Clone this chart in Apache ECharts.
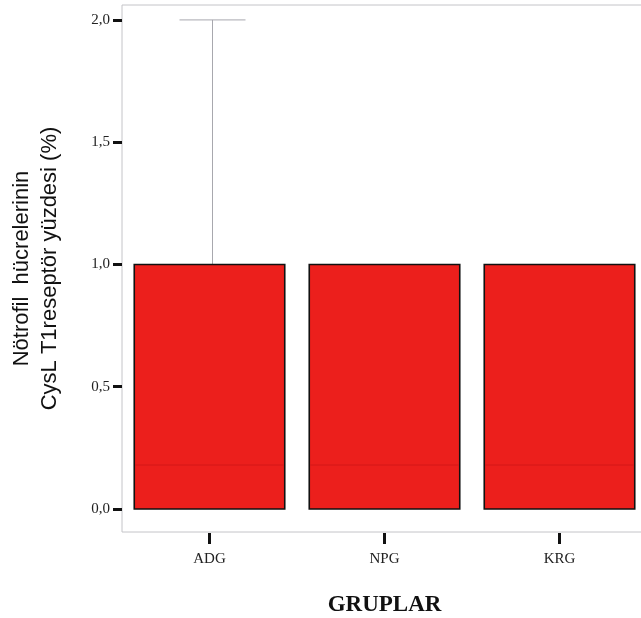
<!DOCTYPE html>
<html><head><meta charset="utf-8">
<script src="https://cdn.jsdelivr.net/npm/echarts@6/dist/echarts.min.js"></script>
<style>html,body{margin:0;padding:0;background:#fff}#c{width:641px;height:618px}</style>
</head><body><div id="c"></div>
<script>
var categories = ['ADG', 'NPG', 'KRG'];
var boxLow = [0, 0, 0];
var boxHigh = [1, 1, 1];
var medianVals = [0.18, 0.18, 0.18];
var whiskerMax = [2, 1, 1];
var yTicks = [0, 0.5, 1, 1.5, 2];

var data = categories.map(function (c, i) {
  return [i, boxLow[i], boxHigh[i], medianVals[i], whiskerMax[i]];
});

var chart = echarts.init(document.getElementById('c'));
chart.setOption({
  backgroundColor: '#fff',
  animation: false,
  grid: { left: 122, top: 5, bottom: 86, width: 525, outerBoundsMode: 'none', containLabel: false,
    show: true, borderColor: '#c4c4c8', borderWidth: 1, backgroundColor: '#fff' },
  xAxis: {
    type: 'category', data: categories, offset: 1,
    axisLine: { show: false, onZero: false },
    axisTick: { show: true, alignWithLabel: true, length: 11, lineStyle: { color: '#111', width: 3 } },
    axisLabel: { margin: 19, fontFamily: 'Liberation Serif', fontSize: 15, color: '#222' },
    name: 'GRUPLAR', nameLocation: 'middle', nameGap: 61,
    nameTextStyle: { fontFamily: 'Liberation Serif', fontWeight: 'bold', fontSize: 23, color: '#111' }
  },
  yAxis: {
    type: 'value', min: -0.094, max: 2.061,
    splitLine: { show: false },
    axisLine: { show: false, onZero: false },
    axisTick: { show: true, length: 9, customValues: yTicks, lineStyle: { color: '#111', width: 3 } },
    axisLabel: { customValues: yTicks, margin: 12, fontFamily: 'Liberation Serif', fontSize: 15, color: '#222',
      formatter: function (v) { return v.toFixed(1).replace('.', ','); } },
    name: 'Nötrofil  hücrelerinin\nCysL T1reseptör yüzdesi (%)',
    nameLocation: 'middle', nameRotate: 90, nameGap: 58,
    nameTextStyle: { fontFamily: 'Liberation Sans', fontSize: 22, color: '#111', lineHeight: 28 }
  },
  series: [{
    type: 'custom',
    data: data,
    renderItem: function (params, api) {
      var idx = api.value(0);
      var bw = api.size([1, 0])[0] * 0.86;
      var pLow = api.coord([idx, api.value(1)]);
      var pHigh = api.coord([idx, api.value(2)]);
      var pMed = api.coord([idx, api.value(3)]);
      var pMax = api.coord([idx, api.value(4)]);
      var cx = pLow[0];
      var children = [];
      if (api.value(4) > api.value(2)) {
        children.push({ type: 'line', shape: { x1: cx + 3, y1: pHigh[1], x2: cx + 3, y2: pMax[1] }, style: { stroke: '#a8a8ae', lineWidth: 1 } });
        children.push({ type: 'line', shape: { x1: cx + 3 - 33, y1: pMax[1], x2: cx + 3 + 33, y2: pMax[1] }, style: { stroke: '#a8a8ae', lineWidth: 1 } });
      }
      children.push({ type: 'rect', shape: { x: cx - bw / 2, y: pHigh[1], width: bw, height: pLow[1] - pHigh[1] },
        style: { fill: '#ec1f1c', stroke: '#111', lineWidth: 1.6 } });
      children.push({ type: 'line', shape: { x1: cx - bw / 2 + 1, y1: pMed[1], x2: cx + bw / 2 - 1, y2: pMed[1] }, style: { stroke: '#d41818', lineWidth: 1 } });
      return { type: 'group', children: children };
    }
  }]
});
</script></body></html>
